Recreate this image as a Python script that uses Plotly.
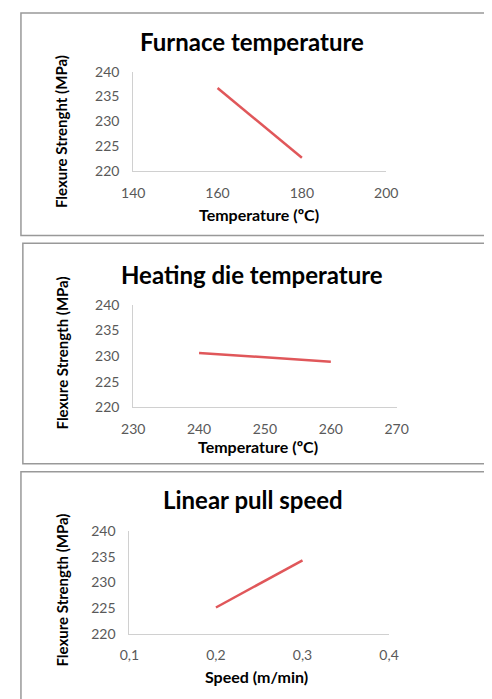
import plotly.graph_objects as go

# data
furnace_temp = [160, 180]
furnace_strength = [236.7, 222.7]

die_temp = [240, 260]
die_strength = [230.6, 228.9]

pull_speed = [0.2, 0.3]
pull_strength = [225.1, 234.3]

titles = ["Furnace temperature", "Heating die temperature", "Linear pull speed"]
y_titles = ["Flexure Strenght (MPa)", "Flexure Strength (MPa)", "Flexure Strength (MPa)"]
x_titles = ["Temperature (ºC)", "Temperature (ºC)", "Speed (m/min)"]
x_ranges = [[140, 200], [230, 270], [0.1, 0.4]]
x_dticks = [20, 10, 0.1]
y_range = [220, 240]

W, H = 492, 699
OFF = 8  # page body margin shifts the figure by 8px


def px(x):
    return (x - OFF) / W


def py(y):
    return 1 - (y - OFF) / H


# pixel boxes of the three plot areas: (left, right, top, bottom)
boxes = [(127, 393, 64, 166), (127, 404, 303, 408), (123, 396, 535, 640)]
# panel frames: (left, top, bottom)
frames = [(9, 4, 232), (11, 240, 466), (9, 474, 720)]
title_pos = [(252, 33), (252, 272), (253, 503)]
ytitle_pos = [(51, 125), (52, 352), (52, 595)]
xtitle_pos = [(259, 210), (258, 448), (257, 684)]

series = [(furnace_temp, furnace_strength), (die_temp, die_strength), (pull_speed, pull_strength)]

font = "Lato, 'Open Sans', sans-serif"
fig = go.Figure()
annotations = []
shapes = []

for i, (xs, ys) in enumerate(series):
    n = "" if i == 0 else str(i + 1)
    fig.add_trace(go.Scatter(x=xs, y=ys, mode="lines", xaxis="x" + n, yaxis="y" + n,
                             line=dict(color="#e0575a", width=2.5), showlegend=False))
    l, r, t, b = boxes[i]
    fig.layout["xaxis" + n] = dict(domain=[px(l), px(r)], anchor="y" + n, range=x_ranges[i],
                                   dtick=x_dticks[i], tick0=x_ranges[i][0], showgrid=False,
                                   zeroline=False, showline=True, linecolor="#d0d0d0", linewidth=1,
                                   ticks="", ticklabelstandoff=9,
                                   tickfont=dict(size=14, color="#595959", family=font))
    fig.layout["yaxis" + n] = dict(domain=[py(b), py(t)], anchor="x" + n, range=y_range, dtick=5,
                                   showgrid=False, zeroline=False, showline=True, linecolor="#d0d0d0",
                                   linewidth=1, ticks="", ticklabelstandoff=10,
                                   tickfont=dict(size=14, color="#595959", family=font))
    tx, ty = title_pos[i]
    annotations.append(dict(text="<b>%s</b>" % titles[i], x=px(tx), y=py(ty), xref="paper", yref="paper",
                            xanchor="center", yanchor="middle", showarrow=False,
                            font=dict(size=24, color="#000000", family=font)))
    yx, yy = ytitle_pos[i]
    annotations.append(dict(text="<b>%s</b>" % y_titles[i], x=px(yx), y=py(yy), xref="paper", yref="paper",
                            xanchor="center", yanchor="middle", showarrow=False, textangle=-90,
                            font=dict(size=15, color="#000000", family=font)))
    xx, xy = xtitle_pos[i]
    annotations.append(dict(text="<b>%s</b>" % x_titles[i], x=px(xx), y=py(xy), xref="paper", yref="paper",
                            xanchor="center", yanchor="middle", showarrow=False,
                            font=dict(size=16, color="#000000", family=font)))
    fl, ft, fb = frames[i]
    shapes.append(dict(type="rect", xref="paper", yref="paper", x0=px(fl), x1=px(W + 20),
                       y0=py(fb), y1=py(ft), line=dict(color="#999999", width=1.5)))

fig.update_layout(width=W, height=H, margin=dict(l=0, r=0, t=0, b=0),
                  paper_bgcolor="white", plot_bgcolor="white", separators=",.",
                  annotations=annotations, shapes=shapes)

fig.write_html("out.html")
